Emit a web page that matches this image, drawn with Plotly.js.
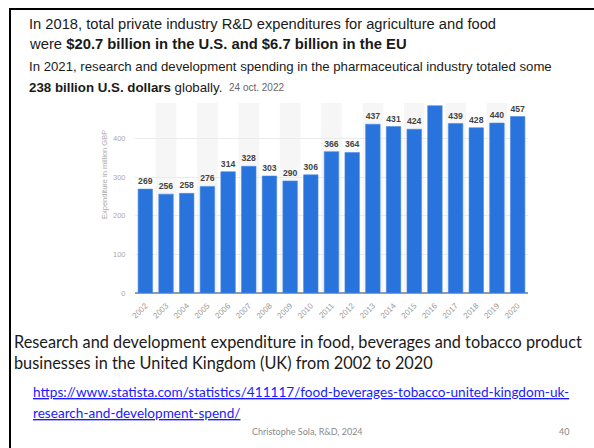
<!DOCTYPE html>
<html>
<head>
<meta charset="utf-8">
<script src="https://cdn.plot.ly/plotly-3.0.1.min.js"></script>
<style>
html,body{margin:0;padding:0;background:#fff;}
#chart{width:594px;height:448px;}
</style>
</head>
<body>
<div id="chart"></div>
<script>
// ---- data ----
const years = ["2002","2003","2004","2005","2006","2007","2008","2009","2010","2011","2012","2013","2014","2015","2016","2017","2018","2019","2020"];
const spend = [269,256,258,276,314,328,303,290,306,366,364,437,431,424,485,439,428,440,457];
const barLabels = ["269","256","258","276","314","328","303","290","306","366","364","437","431","424","","439","428","440","457"];
const yTicks = [0,100,200,300,400];

// ---- layout geometry (pixels) ----
const W = 594, H = 448, L = 135, R = 66, T = 103, B = 155;
const pw = W - L - R, ph = H - T - B;
const px = x => (x - L) / pw;
const py = y => (H - B - y) / ph;

const shapes = [];
years.forEach((y, i) => {
  if (i % 2 === 1) {
    shapes.push({type:'rect', xref:'x', yref:'paper', x0:i-0.5, x1:i+0.5, y0:0, y1:1,
      fillcolor:'#f6f6f6', line:{width:0}, layer:'below'});
  }
});
// slide frame
shapes.push({type:'line', xref:'paper', yref:'paper', x0:px(10), x1:px(10), y0:py(9), y1:py(460), line:{color:'#000', width:2}});
shapes.push({type:'line', xref:'paper', yref:'paper', x0:px(9), x1:px(600), y0:py(9), y1:py(9), line:{color:'#000', width:2}});

const sans = 'Liberation Sans, Arial, sans-serif';
const calib = 'Lato, Open Sans, sans-serif';
function ann(text, x, y, size, extra) {
  return Object.assign({text:text, xref:'paper', yref:'paper', x:px(x), y:py(y),
    xanchor:'left', yanchor:'middle', showarrow:false, align:'left',
    font:{family:sans, size:size, color:'#1a1a1a'}}, extra || {});
}

const annotations = [
  ann('In 2018, total private industry R&D expenditures for agriculture and food', 27, 24, 14.7),
  ann('were <b>$20.7 billion in the U.S. and $6.7 billion in the EU</b>', 27, 44, 14.8),
  ann('In 2021, research and development spending in the pharmaceutical industry totaled some', 27, 66, 13.2),
  ann('<b>238 billion U.S. dollars</b> globally.', 27, 87, 13.3),
  ann('24 oct. 2022', 227, 87.5, 10, {font:{family:sans, size:10, color:'#666'}}),
  ann('Expenditure in million GBP', 104, 175, 7.5, {xanchor:'center', textangle:-90, font:{family:sans, size:7.5, color:'#aaa'}}),
  ann('Research and development expenditure in food, beverages and tobacco product', 12, 341, 16.3, {font:{family:calib, size:16.3, color:'#1a1a1a'}}),
  ann('businesses in the United Kingdom (UK) from 2002 to 2020', 12, 362, 16.3, {font:{family:calib, size:16.3, color:'#1a1a1a'}}),
  ann('<u>https://www.statista.com/statistics/411117/food-beverages-tobacco-united-kingdom-uk-</u>', 31, 392, 13.6, {font:{family:calib, size:13.6, color:'#1a1aff'}}),
  ann('<u>research-and-development-spend/</u>', 31, 413, 13.6, {font:{family:calib, size:13.6, color:'#1a1aff'}}),
  ann('Christophe Sola, R&D, 2024', 250, 431, 9, {font:{family:calib, size:9, color:'#8a8a8a'}}),
  ann('40', 557, 431, 9, {font:{family:calib, size:9, color:'#8a8a8a'}})
];

const trace = {
  type:'bar', x:years, y:spend, text:barLabels, textposition:'outside', cliponaxis:false,
  textfont:{family:sans, size:8.8, color:'#444', weight:'bold'},
  marker:{color:'#2873dc', line:{color:'#4a8ae6', width:0.6}},
  hoverinfo:'none'
};

const layout = {
  width:W, height:H,
  margin:{l:L, r:R, t:T, b:B, pad:0},
  paper_bgcolor:'#fff', plot_bgcolor:'rgba(0,0,0,0)',
  showlegend:false, bargap:0.3,
  xaxis:{type:'category', tickangle:-45, showgrid:false, zeroline:false, showline:false,
    ticks:'outside', ticklen:4, tickcolor:'rgba(0,0,0,0)',
    tickfont:{family:sans, size:8, color:'#999'}, fixedrange:true},
  yaxis:{range:[0,492], tickvals:yTicks, ticktext:yTicks.map(String), showgrid:true,
    gridcolor:'#ebebeb', gridwidth:1, zeroline:true, zerolinecolor:'#9a9a9a', zerolinewidth:2,
    ticks:'outside', ticklen:7, tickcolor:'rgba(0,0,0,0)', showline:false,
    tickfont:{family:sans, size:7.5, color:'#aaa'}, fixedrange:true},
  shapes:shapes,
  annotations:annotations
};

Plotly.newPlot('chart', [trace], layout, {displayModeBar:false, staticPlot:true});
</script>
</body>
</html>
